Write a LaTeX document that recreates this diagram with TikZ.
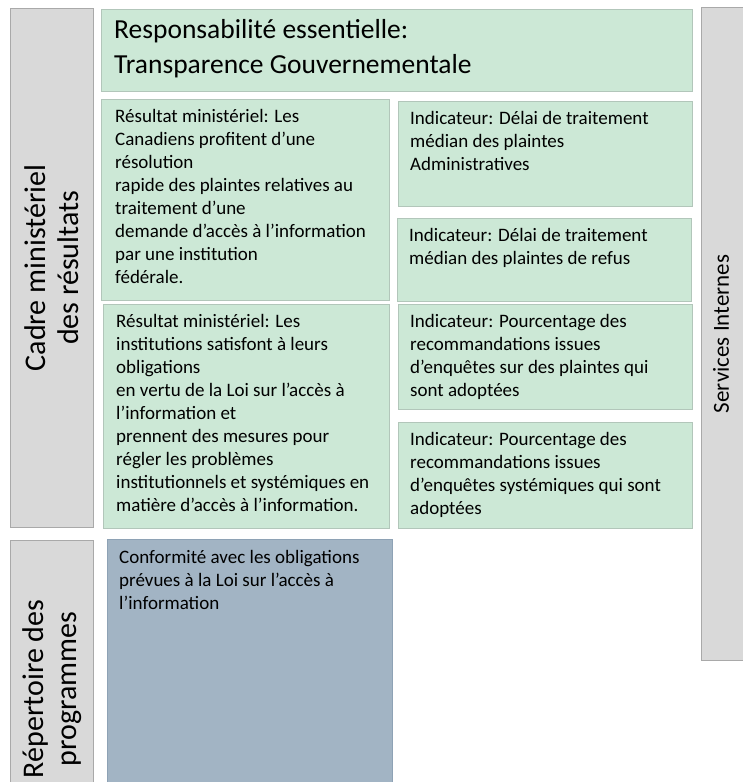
\documentclass[tikz,border=0pt]{standalone}
\usepackage{fontspec}
\setmainfont{Carlito}
\definecolor{vertpale}{HTML}{CCE8D6}
\definecolor{bordvert}{HTML}{B2C6BA}
\definecolor{grispale}{HTML}{D9D9D9}
\definecolor{bordgris}{HTML}{A9A9A9}
\definecolor{bleugris}{HTML}{A2B4C4}
\definecolor{bordbleu}{HTML}{8EA2B5}
\tikzset{
	boite/.style={draw=bordvert, fill=vertpale, line width=0.8pt, anchor=north west, inner sep=0pt},
	bandeau/.style={draw=bordgris, fill=grispale, line width=0.8pt, anchor=north west, inner sep=0pt},
	programme/.style={draw=bordbleu, fill=bleugris, line width=0.8pt, anchor=north west, inner sep=0pt},
	txt/.style={anchor=north west, align=left, inner sep=0pt, font=\fontsize{19}{23}\selectfont},
	grand/.style={align=center, inner sep=0pt, font=\fontsize{30}{33}\selectfont},
}
\begin{document}
\begin{tikzpicture}[x=1pt,y=-1pt]
	\useasboundingbox (0,0) rectangle (742,782);
	% bandeaux gris
	\node[bandeau, minimum width=83pt, minimum height=519pt] (cadre) at (10,8) {};
	\node[bandeau, minimum width=83pt, minimum height=243pt] (repert) at (10,540) {};
	\node[bandeau, minimum width=42pt, minimum height=653pt] (serv) at (701,7) {};
	\node[grand, rotate=90] (t-cadre) at (cadre.center) {Cadre ministériel\\des résultats};
	\node[grand, rotate=90] (t-repert) at (52,689) {Répertoire des\\programmes};
	\node[grand, rotate=90, font=\fontsize{23}{28}\selectfont] (t-serv) at (721,334) {Services Internes};
	% responsabilite essentielle
	\node[boite, minimum width=591pt, minimum height=82pt] (resp) at (101,9) {};
	\node[txt, font=\fontsize{27.5}{35}\selectfont] (t-resp) at ([shift={(13,10)}]resp.north west)
		{Responsabilité essentielle:\\Transparence Gouvernementale};
	% resultats ministeriels
	\node[boite, minimum width=288pt, minimum height=201pt] (res1) at (101,99) {};
	\node[txt] (t-res1) at ([shift={(14,10)}]res1.north west)
		{Résultat ministériel: Les\\Canadiens profitent d’une\\résolution\\rapide des plaintes relatives au\\traitement d’une\\demande d’accès à l’information\\par une institution\\fédérale.};
	\node[boite, minimum width=286pt, minimum height=224pt] (res2) at (103,304) {};
	\node[txt] (t-res2) at ([shift={(13,10)}]res2.north west)
		{Résultat ministériel: Les\\institutions satisfont à leurs\\obligations\\en vertu de la Loi sur l’accès à\\l’information et\\prennent des mesures pour\\régler les problèmes\\institutionnels et systémiques en\\matière d’accès à l’information.};
	% indicateurs
	\node[boite, minimum width=294pt, minimum height=105pt] (ind1) at (398,101) {};
	\node[txt] (t-ind1) at ([shift={(12,10)}]ind1.north west)
		{Indicateur: Délai de traitement\\médian des plaintes\\Administratives};
	\node[boite, minimum width=294pt, minimum height=83pt] (ind2) at (397,218) {};
	\node[txt] (t-ind2) at ([shift={(12,10)}]ind2.north west)
		{Indicateur: Délai de traitement\\médian des plaintes de refus};
	\node[boite, minimum width=294pt, minimum height=105pt] (ind3) at (398,304) {};
	\node[txt] (t-ind3) at ([shift={(12,10)}]ind3.north west)
		{Indicateur: Pourcentage des\\recommandations issues\\d’enquêtes sur des plaintes qui\\sont adoptées};
	\node[boite, minimum width=294pt, minimum height=106pt] (ind4) at (398,422) {};
	\node[txt] (t-ind4) at ([shift={(12,10)}]ind4.north west)
		{Indicateur: Pourcentage des\\recommandations issues\\d’enquêtes systémiques qui sont\\adoptées};
	% repertoire
	\node[programme, minimum width=285pt, minimum height=244pt] (conf) at (107,539) {};
	\node[txt] (t-conf) at ([shift={(12,11)}]conf.north west)
		{Conformité avec les obligations\\prévues à la Loi sur l’accès à\\l’information};
\end{tikzpicture}
\end{document}
